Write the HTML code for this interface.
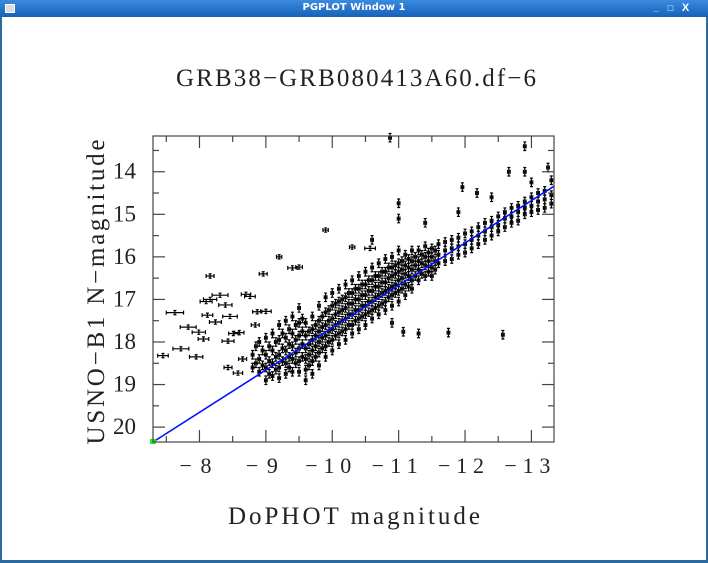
<!DOCTYPE html>
<html><head><meta charset="utf-8"><style>
html,body{margin:0;padding:0;background:#fff;}
#win{position:relative;width:708px;height:563px;overflow:hidden;background:#fff;}
#tb{position:absolute;left:0;top:0;width:708px;height:17px;background:linear-gradient(#3a8be0,#1761b8);}
#tb span{position:absolute;left:0;right:0;top:2px;text-align:center;color:#fff;font:bold 10px "DejaVu Sans",sans-serif;}
</style></head><body>
<div id="win">
<div id="tb">
<div style="position:absolute;left:5px;top:4px;width:8px;height:7px;background:#ddd;border:1px solid #fff"></div>
<span>PGPLOT Window 1</span>
<div style="position:absolute;left:651px;top:3px;width:11px;height:11px;color:#fff;font:bold 9px sans-serif;text-align:center">_</div>
<div style="position:absolute;left:665px;top:3px;width:11px;height:11px;color:#fff;font:bold 9px sans-serif;text-align:center">□</div>
<div style="position:absolute;left:680px;top:2px;width:11px;height:11px;color:#fff;font:bold 11px sans-serif;text-align:center">X</div>
</div>
<div style="position:absolute;left:0;top:17px;width:2px;height:546px;background:#2a6aa0"></div>
<div style="position:absolute;right:0;top:17px;width:2px;height:546px;background:#2a6aa0"></div>
<div style="position:absolute;left:0;top:560px;width:708px;height:3px;background:#2a6aa0"></div>
<svg id="chart" width="708" height="563" style="position:absolute;left:0;top:0"></svg>
</div>
<script>
const xTicks=[-8,-9,-10,-11,-12,-13];
const yTicks=[14,15,16,17,18,19,20];
const xDomain=[-7.3,-13.34];
const yDomain=[13.16,20.35];
const fitLine=[[-7.3,20.35],[-13.34,14.34]];
// core band: x positions and y values at each x
const bandX=[-8.8,-8.85,-8.9,-8.95,-9.0,-9.05,-9.1,-9.15,-9.2,-9.25,-9.3,-9.35,-9.4,-9.45,-9.5,-9.55,-9.6,-9.65,-9.7,-9.75,-9.8,-9.85,-9.9,-9.95,-10.0,-10.05,-10.1,-10.15,-10.2,-10.25,-10.3,-10.35,-10.4,-10.45,-10.5,-10.55,-10.6,-10.65,-10.7,-10.75,-10.8,-10.85,-10.9,-10.95,-11.0,-11.05,-11.1,-11.15,-11.2,-11.25,-11.3,-11.35,-11.4,-11.45,-11.5,-11.55,-11.6,-11.7,-11.8,-11.9,-12.0,-12.1,-12.2,-12.3,-12.4,-12.5,-12.6,-12.7,-12.8,-12.9,-13.0,-13.1,-13.2,-13.3];
const bandY=[[18.3,18.6],[18.1,18.5],[18.4,18.0,18.7],[18.2,18.55],[17.9,18.3,18.6,18.9],[18.1,18.45,18.75],[17.8,18.2,18.5,18.8],[18.0,18.35,18.65],[17.6,17.95,18.3,18.6,18.85],[17.8,18.15,18.45],[17.5,17.9,18.2,18.5,18.75],[17.7,18.05,18.35,18.6],[17.4,17.8,18.1,18.4,18.7],[17.6,17.95,18.25,18.5],[17.2,17.55,17.85,18.15,18.45,18.7],[17.45,17.75,18.05,18.35],
[17.55,17.85,18.15,18.4,18.65,18.9],[17.75,18.05,18.3,18.55],[17.4,17.7,17.95,18.2,18.45,18.75],[17.6,17.85,18.1,18.35],[17.15,17.5,17.75,18.0,18.25,18.55],[17.4,17.65,17.9,18.15],[16.95,17.3,17.6,17.85,18.1,18.35],[17.25,17.5,17.75,18.0],[16.85,17.15,17.45,17.7,17.95,18.2],[17.1,17.35,17.6,17.85],[16.75,17.05,17.3,17.55,17.8,18.05],[17.0,17.25,17.5,17.75],[16.65,16.95,17.2,17.45,17.7,17.95],[16.85,17.1,17.35,17.6],[16.55,16.85,17.1,17.35,17.6,17.8],[16.75,17.0,17.25,17.5],[16.45,16.75,17.0,17.25,17.45,17.7],[16.65,16.9,17.15,17.4],[16.35,16.65,16.9,17.15,17.35,17.6],[16.55,16.8,17.05,17.3],[16.25,16.55,16.8,17.05,17.25,17.45],[16.45,16.7,16.95,17.2],[16.15,16.45,16.7,16.9,17.15,17.35],[16.35,16.6,16.85,17.1],[16.05,16.35,16.6,16.8,17.05,17.25],[16.25,16.5,16.75,16.95],[16.0,16.25,16.45,16.7,16.9,17.15],[16.2,16.4,16.65,16.85],[15.85,16.15,16.35,16.55,16.8,17.05],[16.1,16.3,16.5,16.75],[15.95,16.2,16.4,16.65,16.9],[16.05,16.25,16.45,16.7],[15.85,16.1,16.3,16.55,16.75],[16.0,16.2,16.45],[15.85,16.1,16.3,16.55],[15.95,16.15,16.4],[15.75,16.0,16.2,16.45],[15.9,16.1,16.35],[15.8,16.0,16.25,16.45],[15.85,16.1,16.3],[15.7,15.95,16.15],[15.65,15.85,16.1],[15.6,15.8,16.05],[15.55,15.75,15.95],[15.45,15.7,15.9],[15.4,15.6,15.8],[15.3,15.5,15.7],[15.2,15.4,15.6],[15.15,15.3,15.5],[15.05,15.25,15.4],[14.95,15.1,15.3],[14.85,15.05,15.2],[14.8,14.95,15.15],[14.7,14.85,15.0],[14.6,14.8,14.95],[14.5,14.7,14.9],[14.45,14.65,14.85],[14.55,14.75]];
// faint-end points with wide horizontal error bars
const leftX=[-7.63,-7.83,-8.16,-8.31,-8.1,-8.39,-8.12,-8.46,-8.24,-7.99,-8.06,-7.72,-7.95,-7.45,-8.43,-8.51,-8.76,-8.7,-8.87,-9.0,-8.84,-8.6,-8.43,-8.58,-8.65,-8.16,-9.9,-9.2,-8.96,-9.4,-9.5,-10.3,-10.57];
const leftY=[17.31,17.65,17.0,16.9,17.05,17.13,17.37,17.4,17.53,17.77,17.93,18.16,18.35,18.32,17.98,17.8,16.93,16.88,17.29,17.28,17.6,17.78,18.6,18.73,18.4,16.45,15.37,16.0,16.4,16.26,16.24,15.77,15.8];
const leftErr=[0.13,0.12,0.1,0.12,0.09,0.1,0.08,0.11,0.09,0.1,0.08,0.12,0.1,0.08,0.09,0.07,0.08,0.07,0.07,0.08,0.06,0.07,0.06,0.07,0.06,0.06,0.04,0.04,0.06,0.07,0.05,0.04,0.08];
// bright outliers
const outX=[-11.0,-11.0,-11.96,-12.18,-12.66,-12.9,-13.25,-12.9,-10.87,-13.0,-10.9,-11.07,-11.3,-11.75,-12.57,-10.6,-11.4,-11.9,-12.4,-13.3];
const outY=[14.74,15.1,14.36,14.5,14.0,14.0,13.9,13.4,13.2,14.25,17.55,17.76,17.8,17.78,17.83,15.6,15.2,14.95,14.6,14.2];

const svg=document.getElementById('chart');
const NS='http://www.w3.org/2000/svg';
const L=153,R=554,T=136,B=442;
const FONT='"Liberation Serif","DejaVu Serif",serif';
function sx(v){return L+(v-xDomain[0])/(xDomain[1]-xDomain[0])*(R-L);}
function sy(v){return T+(v-yDomain[0])/(yDomain[1]-yDomain[0])*(B-T);}
function mk(tag,attrs){const e=document.createElementNS(NS,tag);for(const k in attrs)e.setAttribute(k,attrs[k]);svg.appendChild(e);return e;}
function txt(s,x,y,size,anchor,len){const a={x:x,y:y,'font-size':size,'text-anchor':anchor,'font-family':FONT,fill:'#222'};if(len){a.textLength=len;a.lengthAdjust='spacing';}const e=mk('text',a);e.textContent=s;return e;}

let t=txt('GRB38\u2212GRB080413A60.df\u22126',356,86,25,'middle',360);



// points
const g=mk('g',{stroke:'#000','stroke-width':1.2,fill:'none'});


function point(x,y,xe,ye){
  const px=sx(x),py=sy(y);
  const x1=sx(x+xe),x2=sx(x-xe),y1=sy(y-ye),y2=sy(y+ye);
  const p=document.createElementNS(NS,'path');
  p.setAttribute('d',`M${x1},${py}H${x2}M${x1},${py-2}V${py+2}M${x2},${py-2}V${py+2}M${px},${y1}V${y2}M${px-1.5},${y1}H${px+1.5}M${px-1.5},${y2}H${px+1.5}`);
  
  
  g.appendChild(p);
}
bandX.forEach((x,i)=>bandY[i].forEach(y=>point(x,y,0.02,0.1)));
leftX.forEach((x,i)=>point(x,leftY[i],leftErr[i],0.05));
outX.forEach((x,i)=>point(x,outY[i],0.02,0.1));

// fit line
const fl=mk('line',{x1:sx(fitLine[0][0]),y1:sy(fitLine[0][1]),x2:sx(fitLine[1][0]),y2:sy(fitLine[1][1]),stroke:'#0010ff','stroke-width':1.6});


const gm=mk('rect',{x:sx(fitLine[0][0])-3,y:sy(fitLine[0][1])-3,width:6,height:5,fill:'#22ee22'});



// frame
const fr=mk('rect',{x:L,y:T,width:R-L,height:B-T,fill:'none',stroke:'#444','stroke-width':1.2});


const ax=mk('g',{stroke:'#444','stroke-width':1.2});


function tl(x1,y1,x2,y2){const l=document.createElementNS(NS,'line');l.setAttribute('x1',x1);l.setAttribute('y1',y1);l.setAttribute('x2',x2);l.setAttribute('y2',y2);ax.appendChild(l);}
for(let v=-7.5;v>=-13.3;v-=0.5){const px=sx(v);const len=Math.abs(v-Math.round(v))<0.01?12:6;tl(px,B,px,B-len);tl(px,T,px,T+len);}
for(let v=13.5;v<=20.3;v+=0.5){const py=sy(v);const len=Math.abs(v-Math.round(v))<0.01?12:6;tl(L,py,L+len,py);tl(R,py,R-len,py);}
xTicks.forEach(v=>{const s='\u2212'+Math.abs(v);const e=txt(s,sx(v)-4,473,22,'middle',s.length>2?46:32);

});
yTicks.forEach(v=>{const e=txt(String(v),136,sy(v)+7,23,'end');

});
let xt=txt('DoPHOT magnitude',354,524,25,'middle',252);


let yt=txt('USNO\u2212B1 N\u2212magnitude',0,0,25,'middle',305);
yt.setAttribute('transform','translate(104,292) rotate(-90)');


</script>
</body></html>
